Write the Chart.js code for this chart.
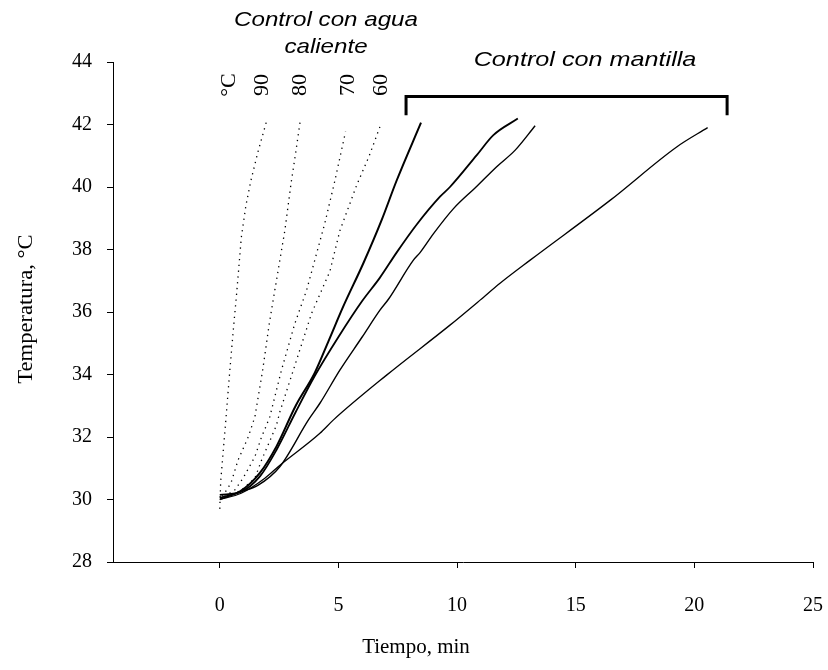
<!DOCTYPE html>
<html>
<head>
<meta charset="utf-8">
<script src="https://cdn.jsdelivr.net/npm/chart.js@4.4.1/dist/chart.umd.min.js"></script>
<style>
  html, body { margin: 0; padding: 0; background: #fff; }
  #wrap { width: 828px; height: 670px; }
</style>
</head>
<body>
<div id="wrap"><canvas id="tempChart" width="828" height="670"></canvas></div>
<script>
// Hot water controls (dotted), time in min / temperature in °C
const agua90Time = [0, 0.04, 0.14, 0.24, 0.42, 0.59, 0.70, 0.91, 1.1, 1.31, 1.6, 1.97];
const agua90Temp = [29.7, 30.6, 31.5, 32.4, 34.1, 35.6, 36.5, 38.4, 39.4, 40.2, 41.1, 42.1];
const agua80Time = [0.1, 0.35, 0.49, 0.77, 1.2, 1.48, 1.8, 2.08, 2.32, 2.74, 3.0, 3.2, 3.38];
const agua80Temp = [30.1, 30.37, 30.57, 31.26, 32.0, 32.65, 34.1, 35.6, 36.7, 38.6, 40.1, 41.1, 42.06];
const agua70Time = [0.2, 0.63, 0.98, 1.48, 1.76, 1.97, 2.11, 2.6, 3.15, 3.66, 4.43, 4.85, 5.3];
const agua70Temp = [30.1, 30.3, 30.68, 31.37, 32.0, 32.38, 32.65, 34.14, 35.6, 36.7, 38.85, 40.2, 41.77];
const agua60Time = [0.3, 0.91, 1.48, 1.76, 2.18, 2.39, 2.53, 3.1, 3.87, 4.64, 5.06, 5.77, 6.3, 6.75];
const agua60Temp = [30.1, 30.3, 30.68, 31.26, 32.0, 32.38, 32.8, 34.14, 35.96, 37.3, 38.6, 40.06, 41.0, 41.93];

// Blanket controls (solid)
const mantillaATime = [0, 0.84, 1.69, 2.39, 3.2, 4.0, 4.6, 5.2, 6.05, 6.82, 7.45, 8.48];
const mantillaATemp = [30.05, 30.25, 30.85, 31.7, 33.0, 34.05, 35.1, 36.17, 37.56, 38.94, 40.2, 42.06];
const mantillaBTime = [0, 0.9, 1.7, 2.4, 3.2, 4.0, 5.0, 6.0, 6.75, 7.45, 8.3, 9.28, 9.7, 10.83, 11.53, 12.56];
const mantillaBTemp = [30.15, 30.25, 30.75, 31.6, 32.8, 33.95, 35.2, 36.35, 37.1, 37.9, 38.8, 39.69, 40.0, 41.02, 41.66, 42.19];
const mantillaCTime = [0, 0.9, 1.62, 2.53, 3.73, 4.22, 5.06, 6.0, 6.75, 7.1, 8.16, 8.44, 9.0, 9.84, 10.8, 11.67, 12.45, 13.29];
const mantillaCTemp = [30.0, 30.25, 30.46, 31.05, 32.54, 33.08, 34.14, 35.2, 36.06, 36.4, 37.66, 37.9, 38.5, 39.3, 40.0, 40.65, 41.18, 41.96];
const mantillaDTime = [0, 0.9, 1.9, 2.46, 4.22, 4.78, 7.03, 9.7, 10.97, 11.81, 13.08, 16.46, 19.27, 20.56];
const mantillaDTemp = [30.0, 30.2, 30.68, 31.05, 32.12, 32.54, 33.98, 35.58, 36.38, 36.92, 37.66, 39.58, 41.29, 41.9];

// Bracket over the blanket curves
const bracketTime = [7.85, 7.85, 21.38, 21.38];
const bracketTemp = [42.3, 42.9, 42.9, 42.3];

const xTicks = [0, 5, 10, 15, 20, 25];
const yTicks = [28, 30, 32, 34, 36, 38, 40, 42, 44];
const aguaLabels = ['°C', '90', '80', '70', '60'];

function toPoints(xs, ys) {
    return xs.map((x, i) => ({ x: x, y: ys[i] }));
}

function dotted(xs, ys) {
    return {
        data: toPoints(xs, ys),
        borderColor: '#000',
        borderWidth: 1.3,
        borderDash: [1.3, 4.5],
        borderCapStyle: 'butt',
        pointRadius: 0,
        showLine: true,
        tension: 0
    };
}

function solid(xs, ys, w, smooth) {
    return {
        data: toPoints(xs, ys),
        borderColor: '#000',
        borderWidth: w,
        pointRadius: 0,
        showLine: true,
        cubicInterpolationMode: smooth ? 'monotone' : 'default',
        tension: 0
    };
}

// draw text stretched along its baseline, like the original figure
function stretchedText(ctx, text, x, y, angle, sx) {
    ctx.save();
    ctx.translate(x, y);
    ctx.rotate(angle);
    ctx.scale(sx, 1);
    ctx.fillText(text, 0, 0);
    ctx.restore();
}

// Annotation texts
const textPlugin = {
    id: 'textPlugin',
    afterDraw(chart) {
        const ctx = chart.ctx;
        ctx.save();
        ctx.fillStyle = '#000';
        ctx.textAlign = 'center';
        ctx.textBaseline = 'middle';

        ctx.font = 'italic 21px "Liberation Sans", Arial, sans-serif';
        stretchedText(ctx, 'Control con agua', 326, 20, 0, 1.15);
        stretchedText(ctx, 'caliente', 326, 47, 0, 1.15);
        stretchedText(ctx, 'Control con mantilla', 585, 60, 0, 1.2);

        ctx.font = '21px "Liberation Serif", "Times New Roman", serif';
        const xs = [229, 262, 300, 348, 381];
        aguaLabels.forEach((t, i) => {
            stretchedText(ctx, t, xs[i], 85, -Math.PI / 2, 1.05);
        });

        ctx.font = '20px "Liberation Serif", "Times New Roman", serif';
        stretchedText(ctx, 'Tiempo, min', 416, 648, 0, 1.05);
        stretchedText(ctx, 'Temperatura, °C', 27, 309, -Math.PI / 2, 1.13);
        ctx.restore();
    }
};

document.addEventListener('DOMContentLoaded', function() {
    const ctx = document.getElementById('tempChart').getContext('2d');
    new Chart(ctx, {
        type: 'scatter',
        data: {
            datasets: [
                dotted(agua90Time, agua90Temp),
                dotted(agua80Time, agua80Temp),
                dotted(agua70Time, agua70Temp),
                dotted(agua60Time, agua60Temp),
                solid(mantillaATime, mantillaATemp, 2, true),
                solid(mantillaBTime, mantillaBTemp, 1.8, true),
                solid(mantillaCTime, mantillaCTemp, 1.4, true),
                solid(mantillaDTime, mantillaDTemp, 1.3, true),
                solid(bracketTime, bracketTemp, 3, false)
            ]
        },
        options: {
            responsive: false,
            animation: false,
            layout: {
                padding: { top: 62, right: 15, left: 0, bottom: 0 }
            },
            scales: {
                x: {
                    type: 'linear',
                    min: -4.5,
                    max: 25,
                    afterBuildTicks: function(scale) {
                        scale.ticks = xTicks.map(v => ({ value: v }));
                    },
                    afterFit: function(scale) {
                        scale.height = 108;
                        scale.paddingLeft = 0;
                        scale.paddingRight = 0;
                    },
                    border: { color: '#000', width: 1 },
                    grid: {
                        drawOnChartArea: false,
                        drawTicks: true,
                        tickLength: 6,
                        tickColor: '#000'
                    },
                    ticks: {
                        padding: 26,
                        color: '#000',
                        maxRotation: 0,
                        font: { family: '"Liberation Serif", "Times New Roman", serif', size: 20 }
                    }
                },
                y: {
                    min: 28,
                    max: 44,
                    afterBuildTicks: function(scale) {
                        scale.ticks = yTicks.map(v => ({ value: v }));
                    },
                    afterFit: function(scale) {
                        scale.width = 113;
                        scale.paddingTop = 0;
                        scale.paddingBottom = 0;
                    },
                    border: { color: '#000', width: 1 },
                    grid: {
                        drawOnChartArea: false,
                        drawTicks: true,
                        tickLength: 6,
                        tickColor: '#000'
                    },
                    ticks: {
                        padding: 15,
                        color: '#000',
                        font: { family: '"Liberation Serif", "Times New Roman", serif', size: 20 }
                    }
                }
            },
            plugins: {
                legend: { display: false },
                tooltip: { enabled: false }
            }
        },
        plugins: [textPlugin]
    });
});
</script>
</body>
</html>
